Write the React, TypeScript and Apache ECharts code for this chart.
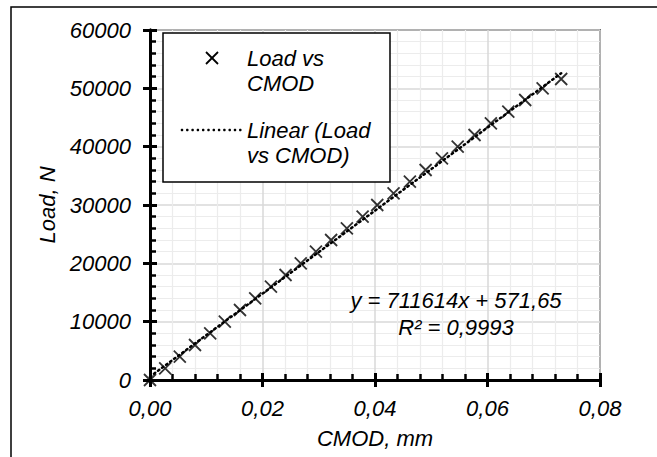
import React, { useEffect, useRef } from "react";
import * as echarts from "echarts";

// ---- data ----
const cmod: number[] = [
  0, 0.0027, 0.0053, 0.008, 0.0107, 0.0133, 0.016, 0.0187, 0.0215, 0.0241,
  0.0268, 0.0295, 0.0322, 0.035, 0.0378, 0.0404, 0.0433, 0.0462, 0.049, 0.0519,
  0.0547, 0.0577, 0.0606, 0.0637, 0.0667, 0.0698, 0.0731,
];
const load: number[] = [
  0, 2000, 4000, 6000, 8000, 10000, 12000, 14000, 16000, 18000,
  20000, 22000, 24000, 26000, 28000, 30000, 32000, 34000, 36000, 38000,
  40000, 42000, 44000, 46000, 48000, 50000, 51600,
];
const seriesName = "Load vs CMOD";
const trendName = "Linear (Load vs CMOD)";
const legendLabel1 = "Load vs\nCMOD";
const legendLabel2 = "Linear (Load\nvs CMOD)";
const slope = 711614;
const intercept = 571.65;
const equationText = "y = 711614x + 571,65";
const r2Text = "R² = 0,9993";
const xAxisName = "CMOD, mm";
const yAxisName = "Load, N";
const xMin = 0, xMax = 0.08, xStep = 0.02;
const yMin = 0, yMax = 60000, yStep = 10000;

const FONT = "'Liberation Sans', Arial, sans-serif";
const AX = "#000";

export default function App() {
  const ref = useRef<HTMLDivElement>(null);
  useEffect(() => {
    if (!ref.current) return;
    const chart = echarts.init(ref.current, undefined, { renderer: "svg" });
    const lastX = cmod[cmod.length - 1];
    const trend = [
      [0, intercept],
      [lastX, slope * lastX + intercept],
    ];
    const scatter = cmod.map((x, i) => [x, load[i]]);
    const txt = { fontFamily: FONT, fontStyle: "italic", fontSize: 22, color: "#000" };

    // legend sample of the dotted trend line, drawn as small dots
    const legendDots = Array.from({ length: 12 }, (_, i) => ({
      type: "circle",
      z: 101,
      shape: { cx: 182 + i * 5.3, cy: 130, r: 1.3 },
      style: { fill: "#000" },
      silent: true,
    }));

    chart.setOption({
      animation: false,
      grid: { left: 150, top: 30, right: 57, bottom: 77 },
      xAxis: [
        {
          type: "value", min: xMin, max: xMax, interval: xStep,
          name: xAxisName,
          nameLocation: "middle",
          nameGap: 47,
          nameTextStyle: txt,
          axisLine: { show: true, onZero: false, lineStyle: { color: AX, width: 3 } },
          axisTick: { show: true, inside: false, length: 7, lineStyle: { color: AX, width: 3 } },
          axisLabel: {
            ...txt,
            margin: 17,
            formatter: (v: number) => v.toFixed(2).replace(".", ","),
          },
          splitLine: { show: true, lineStyle: { color: "#d9d9d9", width: 1.5 } },
        },
        {
          type: "value", min: xMin, max: xMax, interval: xStep, position: "bottom",
          axisLine: { show: true, onZero: false, lineStyle: { color: AX, width: 3 } },
          axisTick: { show: true, inside: true, length: 7, lineStyle: { color: AX, width: 3 } },
          axisLabel: { show: false },
          splitLine: { show: false },
          minorTick: { show: true, splitNumber: 5, length: 6, lineStyle: { color: AX, width: 2.5 } },
          minorSplitLine: { show: true, lineStyle: { color: "#ececec", width: 1.2 } },
        },
      ],
      yAxis: [
        {
          type: "value", min: yMin, max: yMax, interval: yStep,
          name: yAxisName,
          nameLocation: "middle",
          nameGap: 88,
          nameTextStyle: txt,
          axisLine: { show: true, onZero: false, lineStyle: { color: AX, width: 3 } },
          axisTick: { show: true, inside: false, length: 7, lineStyle: { color: AX, width: 3 } },
          axisLabel: { ...txt, margin: 19, formatter: (v: number) => String(v) },
          splitLine: { show: true, lineStyle: { color: "#d9d9d9", width: 1.5 } },
        },
        {
          type: "value", min: yMin, max: yMax, interval: yStep, position: "left",
          axisLine: { show: true, onZero: false, lineStyle: { color: AX, width: 3 } },
          axisTick: { show: true, inside: true, length: 7, lineStyle: { color: AX, width: 3 } },
          axisLabel: { show: false },
          splitLine: { show: false },
          minorTick: { show: true, splitNumber: 5, length: 6, lineStyle: { color: AX, width: 2.5 } },
          minorSplitLine: { show: true, lineStyle: { color: "#ececec", width: 1.2 } },
        },
      ],
      series: [
        {
          name: trendName,
          type: "line",
          data: trend,
          showSymbol: false,
          symbol: "none",
          lineStyle: { color: "#000", width: 2.5, type: [1.5, 3.5], cap: "round" },
          z: 3,
        },
        {
          name: seriesName,
          type: "scatter",
          data: scatter,
          symbol: "path://M0,0L10,10M10,0L0,10",
          symbolSize: 12,
          itemStyle: { color: "none", borderColor: "#000", borderWidth: 1.8 },
          z: 4,
        },
      ],
      graphic: [
        {
          type: "rect",
          shape: { x: 11, y: 7, width: 700, height: 500 },
          style: { fill: "none", stroke: "#000", lineWidth: 1.5 },
          silent: true,
        },
        {
          type: "polyline",
          shape: { points: [[150, 30], [600, 30], [600, 380]] },
          style: { fill: "none", stroke: "#000", lineWidth: 1.5 },
          silent: true,
        },
        {
          type: "rect",
          z: 100,
          shape: { x: 163, y: 33, width: 227, height: 149 },
          style: { fill: "#fff", stroke: "#000", lineWidth: 1.5 },
        },
        {
          type: "polyline",
          z: 101,
          shape: { points: [[206, 52], [218, 64]] },
          style: { fill: "none", stroke: "#000", lineWidth: 1.8 },
        },
        {
          type: "polyline",
          z: 101,
          shape: { points: [[218, 52], [206, 64]] },
          style: { fill: "none", stroke: "#000", lineWidth: 1.8 },
        },
        {
          type: "text",
          z: 101,
          x: 247,
          y: 45.5,
          style: {
            text: legendLabel1,
            font: `italic 22px ${FONT}`,
            lineHeight: 25,
            fill: "#000",
            verticalAlign: "top",
          },
        },
        ...legendDots,
        {
          type: "text",
          z: 101,
          x: 247,
          y: 117.5,
          style: {
            text: legendLabel2,
            font: `italic 22px ${FONT}`,
            lineHeight: 25,
            fill: "#000",
            verticalAlign: "top",
          },
        },
        {
          type: "text",
          z: 101,
          x: 456,
          y: 300,
          style: {
            text: equationText,
            font: `italic 22px ${FONT}`,
            fill: "#000",
            align: "center",
            verticalAlign: "middle",
          },
        },
        {
          type: "text",
          z: 101,
          x: 456,
          y: 327,
          style: {
            text: r2Text,
            font: `italic 22px ${FONT}`,
            fill: "#000",
            align: "center",
            verticalAlign: "middle",
          },
        },
      ],
    });
    return () => chart.dispose();
  }, []);

  return (
    <div
      ref={ref}
      style={{ position: "fixed", left: 0, top: 0, width: 657, height: 457, background: "#fff" }}
    />
  );
}
